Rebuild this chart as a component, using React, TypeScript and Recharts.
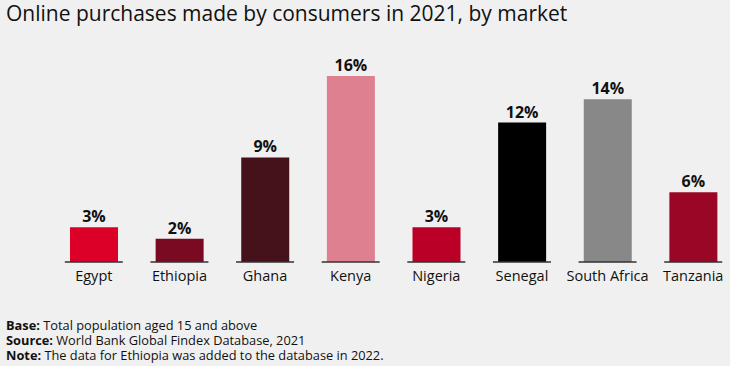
import { BarChart, Bar, XAxis, YAxis, Cell, LabelList } from 'recharts';

const markets = ['Egypt', 'Ethiopia', 'Ghana', 'Kenya', 'Nigeria', 'Senegal', 'South Africa', 'Tanzania'];
const shares = [3, 2, 9, 16, 3, 12, 14, 6];
const barColors = ['#dc0028', '#7a0a22', '#45111b', '#df8090', '#bb0028', '#000000', '#888888', '#9a0625'];

const data = markets.map((market, i) => ({ market, share: shares[i] }));

const FONT = '"Open Sans", sans-serif';

function MarketTick(props: any) {
  const { x, y, payload } = props;
  return (
    <g>
      <line x1={x - 29} x2={x + 29} y1={y} y2={y} stroke="#333" strokeWidth={1.5} />
      <text x={x} y={y + 19} textAnchor="middle" fill="#111" fontSize={14.5} fontFamily={FONT}>
        {payload.value}
      </text>
    </g>
  );
}

export default function App() {
  return (
    <div
      style={{
        position: 'absolute',
        left: 0,
        top: 0,
        width: 730,
        height: 366,
        overflow: 'hidden',
        background: '#f0f0f0',
        fontFamily: FONT,
        color: '#111',
      }}
    >
      <div style={{ position: 'absolute', left: 6, top: 0, fontSize: 21, lineHeight: '26px' }}>
        Online purchases made by consumers in 2021, by market
      </div>
      <BarChart
        width={736}
        height={366}
        data={data}
        margin={{ top: 76, right: 0, bottom: 74, left: 51 }}
        barSize={48}
      >
        <XAxis
          dataKey="market"
          axisLine={false}
          tickLine={false}
          tickSize={0}
          tickMargin={0}
          height={30}
          interval={0}
          tick={<MarketTick />}
        />
        <YAxis hide domain={[0, 16]} />
        <Bar dataKey="share" isAnimationActive={false}>
          {data.map((d, i) => (
            <Cell key={d.market} fill={barColors[i]} />
          ))}
          <LabelList
            dataKey="share"
            position="top"
            offset={5}
            formatter={(v: any) => `${v}%`}
            style={{ fontFamily: FONT, fontSize: 16, fontWeight: 700, fill: '#111' }}
          />
        </Bar>
      </BarChart>
      <div style={{ position: 'absolute', left: 6, top: 318, fontSize: 12.8, lineHeight: '15.2px' }}>
        <div><b>Base:</b> Total population aged 15 and above</div>
        <div><b>Source:</b> World Bank Global Findex Database, 2021</div>
        <div><b>Note:</b> The data for Ethiopia was added to the database in 2022.</div>
      </div>
    </div>
  );
}
